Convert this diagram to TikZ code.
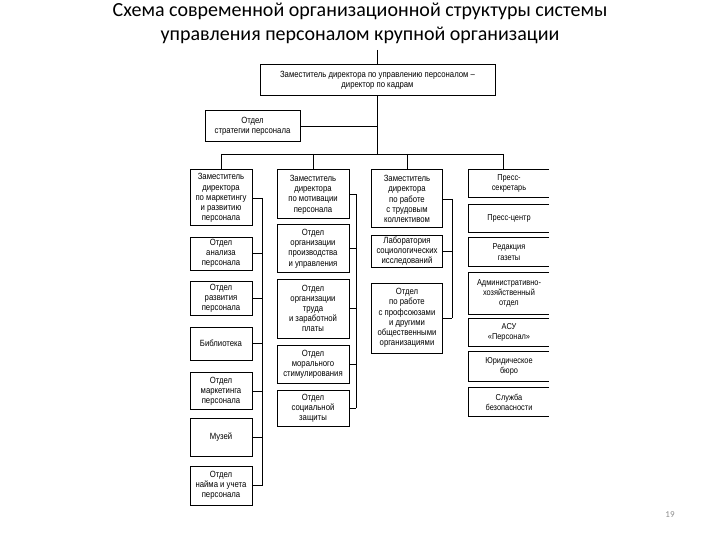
\documentclass[tikz,border=0pt]{standalone}
\usepackage{fontspec}
\setmainfont{Liberation Sans}[FakeStretch=0.86]
\newfontfamily\titlefont{Carlito}
\definecolor{pgnum}{HTML}{8C8C8C}
\begin{document}
\begin{tikzpicture}[x=1pt,y=-1pt,
  box/.style={draw, line width=1pt, align=center, inner sep=0pt, font=\fontsize{9}{10.2}\selectfont},
  obox/.style={align=center, inner sep=0pt, font=\fontsize{8.6}{10.2}\selectfont},
  ttl/.style={font=\titlefont\fontsize{20}{24}\selectfont, anchor=base},
  wh/.style 2 args={minimum width=#1pt, minimum height=#2pt},
  conn/.style={line width=0.6pt},
  edge4/.style={line width=1pt}]
\useasboundingbox (0,0) rectangle (720,540);

% title
\node[ttl] (title1) at (360,17) {Схема современной организационной структуры системы};
\node[ttl] (title2) at (360,41) {управления персоналом крупной организации};
\node[font=\titlefont\fontsize{9}{10}\selectfont, text=pgnum] (pg) at (670,515) {19};

% top
\node[box, wh={235}{31}] (top) at (377.5,80) {Заместитель директора по управлению персоналом --\\директор по кадрам};
\node[box, wh={95}{31}] (strat) at (252.5,126) {Отдел\\стратегии персонала};
\coordinate (above) at (377.5,50);
\draw[conn] (above) -- (top.north);
\draw[conn] (strat.east) -- (strat.east -| top.south);

% column 1
\node[box, wh={62}{56}] (c1a) at (221,198) {Заместитель\\директора\\по маркетингу\\и развитию\\персонала};
\node[box, wh={62}{33}] (c1b) at (221,253.5) {Отдел\\анализа\\персонала};
\node[box, wh={62}{34}] (c1c) at (221,298) {Отдел\\развития\\персонала};
\node[box, wh={62}{33}] (c1d) at (221,343.5) {Библиотека};
\node[box, wh={62}{37}] (c1e) at (221,391) {Отдел\\маркетинга\\персонала};
\node[box, wh={62}{38}] (c1f) at (221,437) {Музей};
\node[box, wh={62}{39}] (c1g) at (221,485.5) {Отдел\\найма и учета\\персонала};

% column 2
\node[box, wh={72}{49}] (c2a) at (313,194.5) {Заместитель\\директора\\по мотивации\\персонала};
\node[box, wh={72}{47}] (c2b) at (313,248.5) {Отдел\\организации\\производства\\и управления};
\node[box, wh={72}{59}] (c2c) at (313,308.5) {Отдел\\организации\\труда\\и заработной\\платы};
\node[box, wh={72}{38}] (c2d) at (313,364) {Отдел\\морального\\стимулирования};
\node[box, wh={72}{36}] (c2e) at (313,408) {Отдел\\социальной\\защиты};

% column 3
\node[box, wh={71}{58}] (c3a) at (407,199) {Заместитель\\директора\\по работе\\с трудовым\\коллективом};
\node[box, wh={71}{32}] (c3b) at (407,251) {Лаборатория\\социологических\\исследований};
\node[box, wh={71}{70}] (c3c) at (407,318) {Отдел\\по работе\\с профсоюзами\\и другими\\общественными\\организациями};

% column 4 (right edges cut off)
\node[obox, wh={80}{27}] (c4a) at (509,183.5) {Пресс-\\секретарь};
\node[obox, wh={80}{27}] (c4b) at (509,218.5) {Пресс-центр};
\node[obox, wh={80}{28}] (c4c) at (509,252) {Редакция\\газеты};
\node[obox, wh={80}{41}] (c4d) at (509,293.5) {Административно-\\хозяйственный\\отдел};
\node[obox, wh={80}{28}] (c4e) at (509,332.5) {АСУ\\«Персонал»};
\node[obox, wh={80}{29}] (c4f) at (509,366.5) {Юридическое\\бюро};
\node[obox, wh={80}{28}] (c4g) at (509,402) {Служба\\безопасности};
\foreach \n in {c4a,c4b,c4c,c4d,c4e,c4f,c4g}
  \draw[edge4] (\n.north east) -- (\n.north west) -- (\n.south west) -- (\n.south east);

% bus
\coordinate (bus1) at (221,154);
\coordinate (bus4) at (503,154);
\draw[conn] (top.south) -- (top.south |- bus1);
\draw[conn] (bus1) -- (bus4);
\draw[conn] (bus1) -- (c1a.north);
\draw[conn] (c2a.north |- bus1) -- (c2a.north);
\draw[conn] (c3a.north |- bus1) -- (c3a.north);
\draw[conn] (bus4) -- (bus4 |- c4a.north);

% column 1 side connector
\coordinate (v1) at (262,0);
\draw[conn] (c1a.east -| v1) -- (c1g.east -| v1);
\foreach \n in {c1a,c1b,c1c,c1d,c1e,c1f,c1g}
  \draw[conn] (\n.east) -- (\n.east -| v1);

% column 2 side connector
\coordinate (v2) at (356,0);
\draw[conn] (c2a.east -| v2) -- (c2e.east -| v2);
\foreach \n in {c2a,c2b,c2c,c2d,c2e}
  \draw[conn] (\n.east) -- (\n.east -| v2);

% column 3 side connector
\coordinate (v3) at (452,0);
\draw[conn] (c3a.east -| v3) -- (c3c.east -| v3);
\foreach \n in {c3a,c3b,c3c}
  \draw[conn] (\n.east) -- (\n.east -| v3);
\end{tikzpicture}
\end{document}
